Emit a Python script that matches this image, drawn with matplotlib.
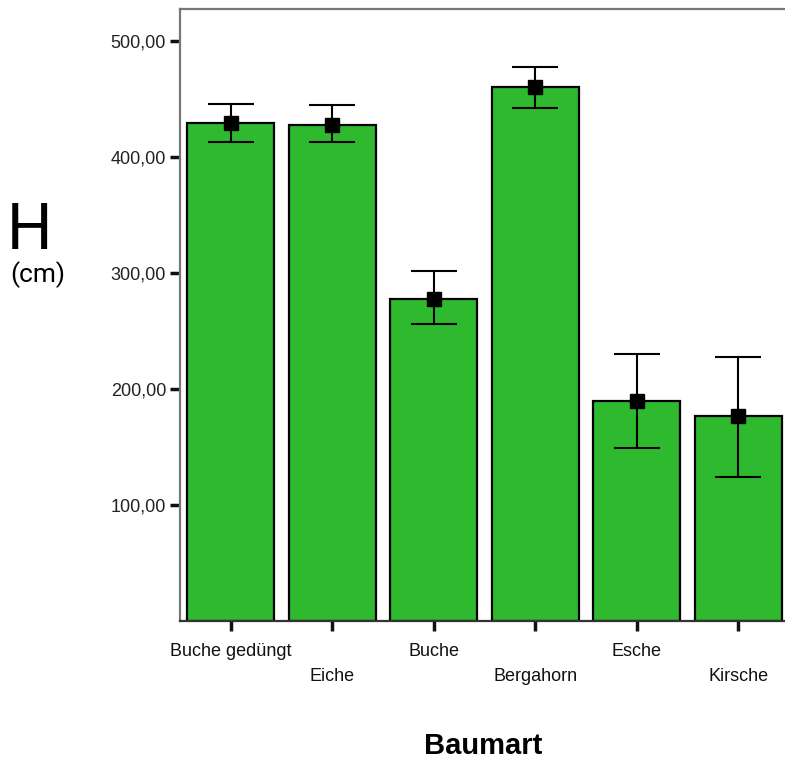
import matplotlib
matplotlib.use("Agg")
import matplotlib.pyplot as plt
import numpy as np

# mean tree height per species with error bar limits (cm)
species = ["Buche gedüngt", "Eiche", "Buche", "Bergahorn", "Esche", "Kirsche"]
height_mean = [430, 428, 278, 461, 190, 177]
err_low = [413, 413, 256, 443, 149, 124]
err_high = [446, 445, 302, 478, 230, 228]
yticks = [100, 200, 300, 400, 500]

fig = plt.figure(figsize=(7.85, 7.6), dpi=100)
ax = fig.add_axes([180 / 785, 139 / 760, 609 / 785, 612 / 760])

x = np.arange(len(species))
mean = np.array(height_mean)
yerr = [mean - np.array(err_low), np.array(err_high) - mean]

ax.bar(x, mean, width=0.86, color="#2fb92f", edgecolor="black", linewidth=1.6, zorder=2)
ax.errorbar(x, mean, yerr=yerr, fmt="s", color="black", markersize=10,
            ecolor="black", elinewidth=1.5, capsize=16.5, capthick=1.5, zorder=3)

ax.set_xlim(-0.5, 5.5)
ax.set_ylim(0, 528)

ax.set_yticks(yticks)
ax.set_yticklabels([f"{v:.2f}".replace(".", ",") for v in yticks],
                   fontfamily="Liberation Sans", fontsize=13, color="#222222")
ax.tick_params(axis="y", length=7, width=2.5, pad=3, color="#111111")

ax.set_xticks(x)
ax.set_xticklabels(species, fontfamily="Liberation Sans", fontsize=13, color="#111111")
ax.tick_params(axis="x", length=7, width=2.5, pad=9, color="#111111")
# stagger every second species name one line lower
for i, t in enumerate(ax.xaxis.get_major_ticks()):
    if i % 2 == 1:
        t.set_pad(27)

for side in ["left", "top"]:
    ax.spines[side].set_color("#777777")
    ax.spines[side].set_linewidth(1.6)
ax.spines["bottom"].set_color("#333333")
ax.spines["bottom"].set_linewidth(1.6)
ax.spines["right"].set_visible(False)

fig.text(483 / 785, 1 - 746 / 760, "Baumart", ha="center", va="center",
         fontfamily="Liberation Sans", fontweight="bold", fontsize=21)
fig.text(29 / 785, 1 - 231 / 760, "H", ha="center", va="center",
         fontfamily="Roboto", fontsize=46)
fig.text(38 / 785, 1 - 275 / 760, "(cm)", ha="center", va="center",
         fontfamily="Roboto", fontsize=19)

fig.savefig("out.png", dpi=100)
